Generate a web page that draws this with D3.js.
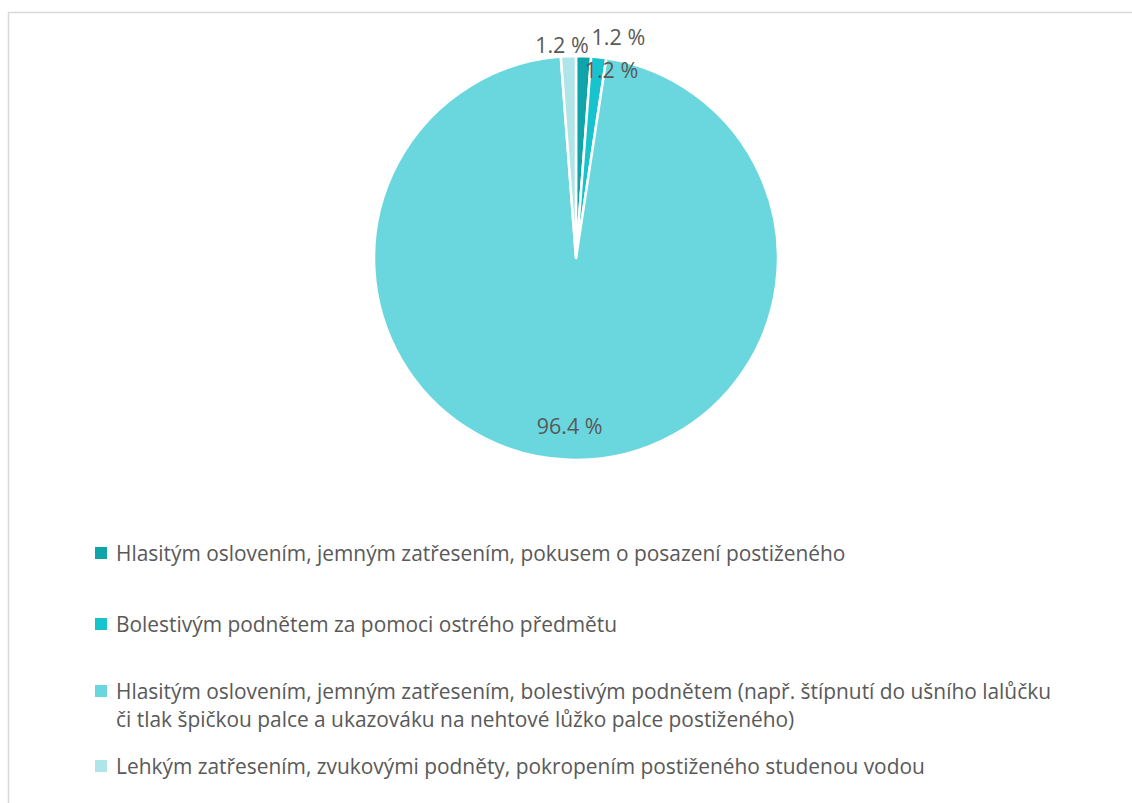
<!DOCTYPE html>
<html>
<head>
<meta charset="utf-8">
<script src="https://cdn.jsdelivr.net/npm/d3@7"></script>
<style>
  html, body { margin: 0; padding: 0; background: #ffffff; }
  svg { display: block; }
  text { font-family: "Open Sans", "Noto Sans", sans-serif; fill: #595959; }
</style>
</head>
<body>
<svg id="chart" width="1132" height="803"></svg>
<script>
// Responses: how the casualty's consciousness was checked
const categories = [
  "Hlasitým oslovením, jemným zatřesením, pokusem o posazení postiženého",
  "Bolestivým podnětem za pomoci ostrého předmětu",
  "Hlasitým oslovením, jemným zatřesením, bolestivým podnětem (např. štípnutí do ušního lalůčku|či tlak špičkou palce a ukazováku na nehtové lůžko palce postiženého)",
  "Lehkým zatřesením, zvukovými podněty, pokropením postiženého studenou vodou"
];
const values = [1.2, 1.2, 96.4, 1.2];
const valueLabels = ["1.2 %", "1.2 %", "96.4 %", "1.2 %"];
const colors = ["#0fa4a9", "#17c4cd", "#6ad7df", "#afe5e9"];

const svg = d3.select("#chart");
const W = 1132, H = 803;

// chart area frame
svg.append("rect")
  .attr("x", 8.5).attr("y", 12.5)
  .attr("width", W + 10).attr("height", H + 10)
  .attr("fill", "none").attr("stroke", "#d9d9d9").attr("stroke-width", 1.5);

const cx = 576, cy = 258, R = 202;
const pie = d3.pie().sort(null).value(d => d);
const arcs = pie(values);
const arc = d3.arc().innerRadius(0).outerRadius(R);

const g = svg.append("g").attr("transform", `translate(${cx},${cy})`);
g.selectAll("path.slice")
  .data(arcs)
  .join("path")
  .attr("class", "slice")
  .attr("d", arc)
  .attr("fill", (d, i) => colors[i])
  .attr("stroke", "#ffffff")
  .attr("stroke-width", 2.5)
  .attr("stroke-linejoin", "round");

// data labels: radius along the slice's mid-angle plus a small sideways nudge
const labelPlace = [
  { r: 222, dx: 34 },
  { r: 190, dx: 14 },
  { r: 168, dx: 0 },
  { r: 214, dx: -6 }
];
g.selectAll("text.val")
  .data(arcs)
  .join("text")
  .attr("class", "val")
  .attr("text-anchor", "middle")
  .attr("dominant-baseline", "central")
  .attr("font-size", 21.5)
  .attr("x", (d, i) => {
    const a = (d.startAngle + d.endAngle) / 2;
    return Math.sin(a) * labelPlace[i].r + labelPlace[i].dx;
  })
  .attr("y", (d, i) => {
    const a = (d.startAngle + d.endAngle) / 2;
    return -Math.cos(a) * labelPlace[i].r;
  })
  .text((d, i) => valueLabels[i]);

// legend
const legendTop = [553, 624, 691, 766];
const lineGap = 28;
const leg = svg.append("g");
categories.forEach((c, i) => {
  const y0 = legendTop[i];
  leg.append("rect")
    .attr("x", 95).attr("y", y0 - 6)
    .attr("width", 12).attr("height", 12)
    .attr("fill", colors[i]);
  const t = leg.append("text")
    .attr("x", 116).attr("y", y0)
    .attr("dominant-baseline", "central")
    .attr("font-size", 20.9);
  c.split("|").forEach((line, k) => {
    t.append("tspan")
      .attr("x", 116)
      .attr("dy", k === 0 ? 0 : lineGap)
      .text(line);
  });
});
</script>
</body>
</html>
